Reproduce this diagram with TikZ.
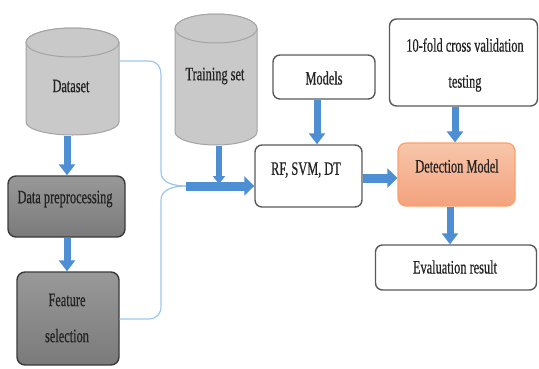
\documentclass[tikz,border=0pt]{standalone}
\usepackage{fontspec}
\setmainfont{Liberation Serif}[FakeStretch=0.65,FakeBold=0.5]
\usetikzlibrary{arrows.meta,calc}

\definecolor{flowblue}{HTML}{4E8ED2}
\definecolor{linkblue}{HTML}{9EC6EC}
\definecolor{drumfill}{HTML}{C9C9C9}
\definecolor{drumline}{HTML}{A4A4A4}
\definecolor{boxline}{HTML}{5A5A5A}
\definecolor{darkline}{HTML}{3A3A3A}
\definecolor{inkgrey}{HTML}{222222}

% cylinder: #1 centre x, #2 x radius, #3 top centre y, #4 bottom centre y,
% #5 top y radius, #6 bottom y radius
\newcommand\drumbody[6]{%
  \filldraw[drum] (#1-#2,#3) -- (#1-#2,#4)
    arc[start angle=180,end angle=360,x radius=#2pt,y radius=#6pt]
    -- (#1+#2,#3)
    arc[start angle=0,end angle=180,x radius=#2pt,y radius=#5pt] -- cycle;
  \draw[drum] (#1,#3) ellipse[x radius=#2pt,y radius=#5pt];}

\begin{document}
\begin{tikzpicture}[x=1pt,y=-1pt,
  txt/.style={font=\fontsize{19}{36}\selectfont, text=inkgrey, inner sep=0pt, align=center},
  drum/.style={fill=drumfill, draw=drumline, line width=1pt},
  wbox/.style={draw=boxline, fill=white, line width=1.4pt, rounded corners=7pt},
  gbox/.style={draw=darkline, line width=1.4pt, rounded corners=8pt,
    top color=black!40, bottom color=black!52},
  obox/.style={draw=orange!75!red!60, line width=1.2pt, rounded corners=8pt,
    top color={rgb,255:red,247;green,198;blue,170}, bottom color={rgb,255:red,244;green,162;blue,126}},
  flow/.style={draw=flowblue, line width=7pt, -{Triangle[width=16pt,length=11pt]}},
  bigflow/.style={draw=flowblue, line width=9pt, -{Triangle[width=19pt,length=10pt]}},
  link/.style={draw=linkblue, line width=1.2pt}]

\useasboundingbox (0,0) rectangle (539,368);

% databases
\drumbody{72.5}{46.5}{42.5}{122}{14.5}{13}
\drumbody{216}{41}{28.5}{132}{14.5}{13}
\node[txt] (dataset) at (71,86) {Dataset};
\node[txt] (train) at (215,76) {Training set};
\coordinate (dsbottom) at (67,136);
\coordinate (dsout) at (119,61);
\coordinate (trbottom) at (219,146);

% boxes
\node[gbox, minimum width=117pt, minimum height=61pt] (prep) at (66.5,206.5) {};
\node[txt] (prept) at (65,199) {Data preprocessing};
\node[gbox, minimum width=102pt, minimum height=93pt] (feat) at (68,318.5) {};
\node[txt] (featt) at (67,318) {Feature\\selection};
\node[wbox, minimum width=107pt, minimum height=62pt] (rf) at (308.5,176) {};
\node[txt] (rft) at (306,170) {RF, SVM, DT};
\node[wbox, minimum width=102pt, minimum height=44pt] (models) at (324,77) {};
\node[txt] (modelst) at (324,78) {Models};
\node[wbox, minimum width=148pt, minimum height=87pt] (tenfold) at (463.5,62.5) {};
\node[txt] (tenfoldt) at (465,65) {10-fold cross validation\\testing};
\node[obox, minimum width=117pt, minimum height=63pt] (detect) at (456.5,174.5) {};
\node[txt] (detectt) at (457,166) {Detection Model};
\node[wbox, minimum width=161pt, minimum height=45pt] (eval) at (456,267.5) {};
\node[txt] (evalt) at (455,267) {Evaluation result};

% thin merging links
\coordinate (join) at (186,186);
\draw[link] (dsout) -- (148,61) .. controls (157,61) and (161,66) .. (161,76)
  -- (161,172) .. controls (161,182) and (172,186) .. (join);
\draw[link] (feat.east |- 0,319) -- (148,319) .. controls (157,319) and (161,314) .. (161,306)
  -- (161,200) .. controls (161,190) and (172,186) .. (join);

% thick flow arrows
\draw[flow] (dsbottom) -- (dsbottom |- prep.north);
\draw[flow] (prep.south -| dsbottom) -- (feat.north -| dsbottom);
\draw[bigflow] (join) -- (join -| rf.west);
\draw[flow, line width=6pt, -{Triangle[width=12pt,length=8pt]}] (trbottom) -- ($(trbottom |- join)+(0,-2)$);
\draw[flow] (models.south -| 317,0) -- (rf.north -| 317,0);
\draw[bigflow] (rf.east |- 0,178) -- (detect.west |- 0,178);
\draw[flow] (tenfold.south -| 455,0) -- (detect.north -| 455,0);
\draw[flow] (detect.south -| 450,0) -- (eval.north -| 450,0);
\end{tikzpicture}
\end{document}
